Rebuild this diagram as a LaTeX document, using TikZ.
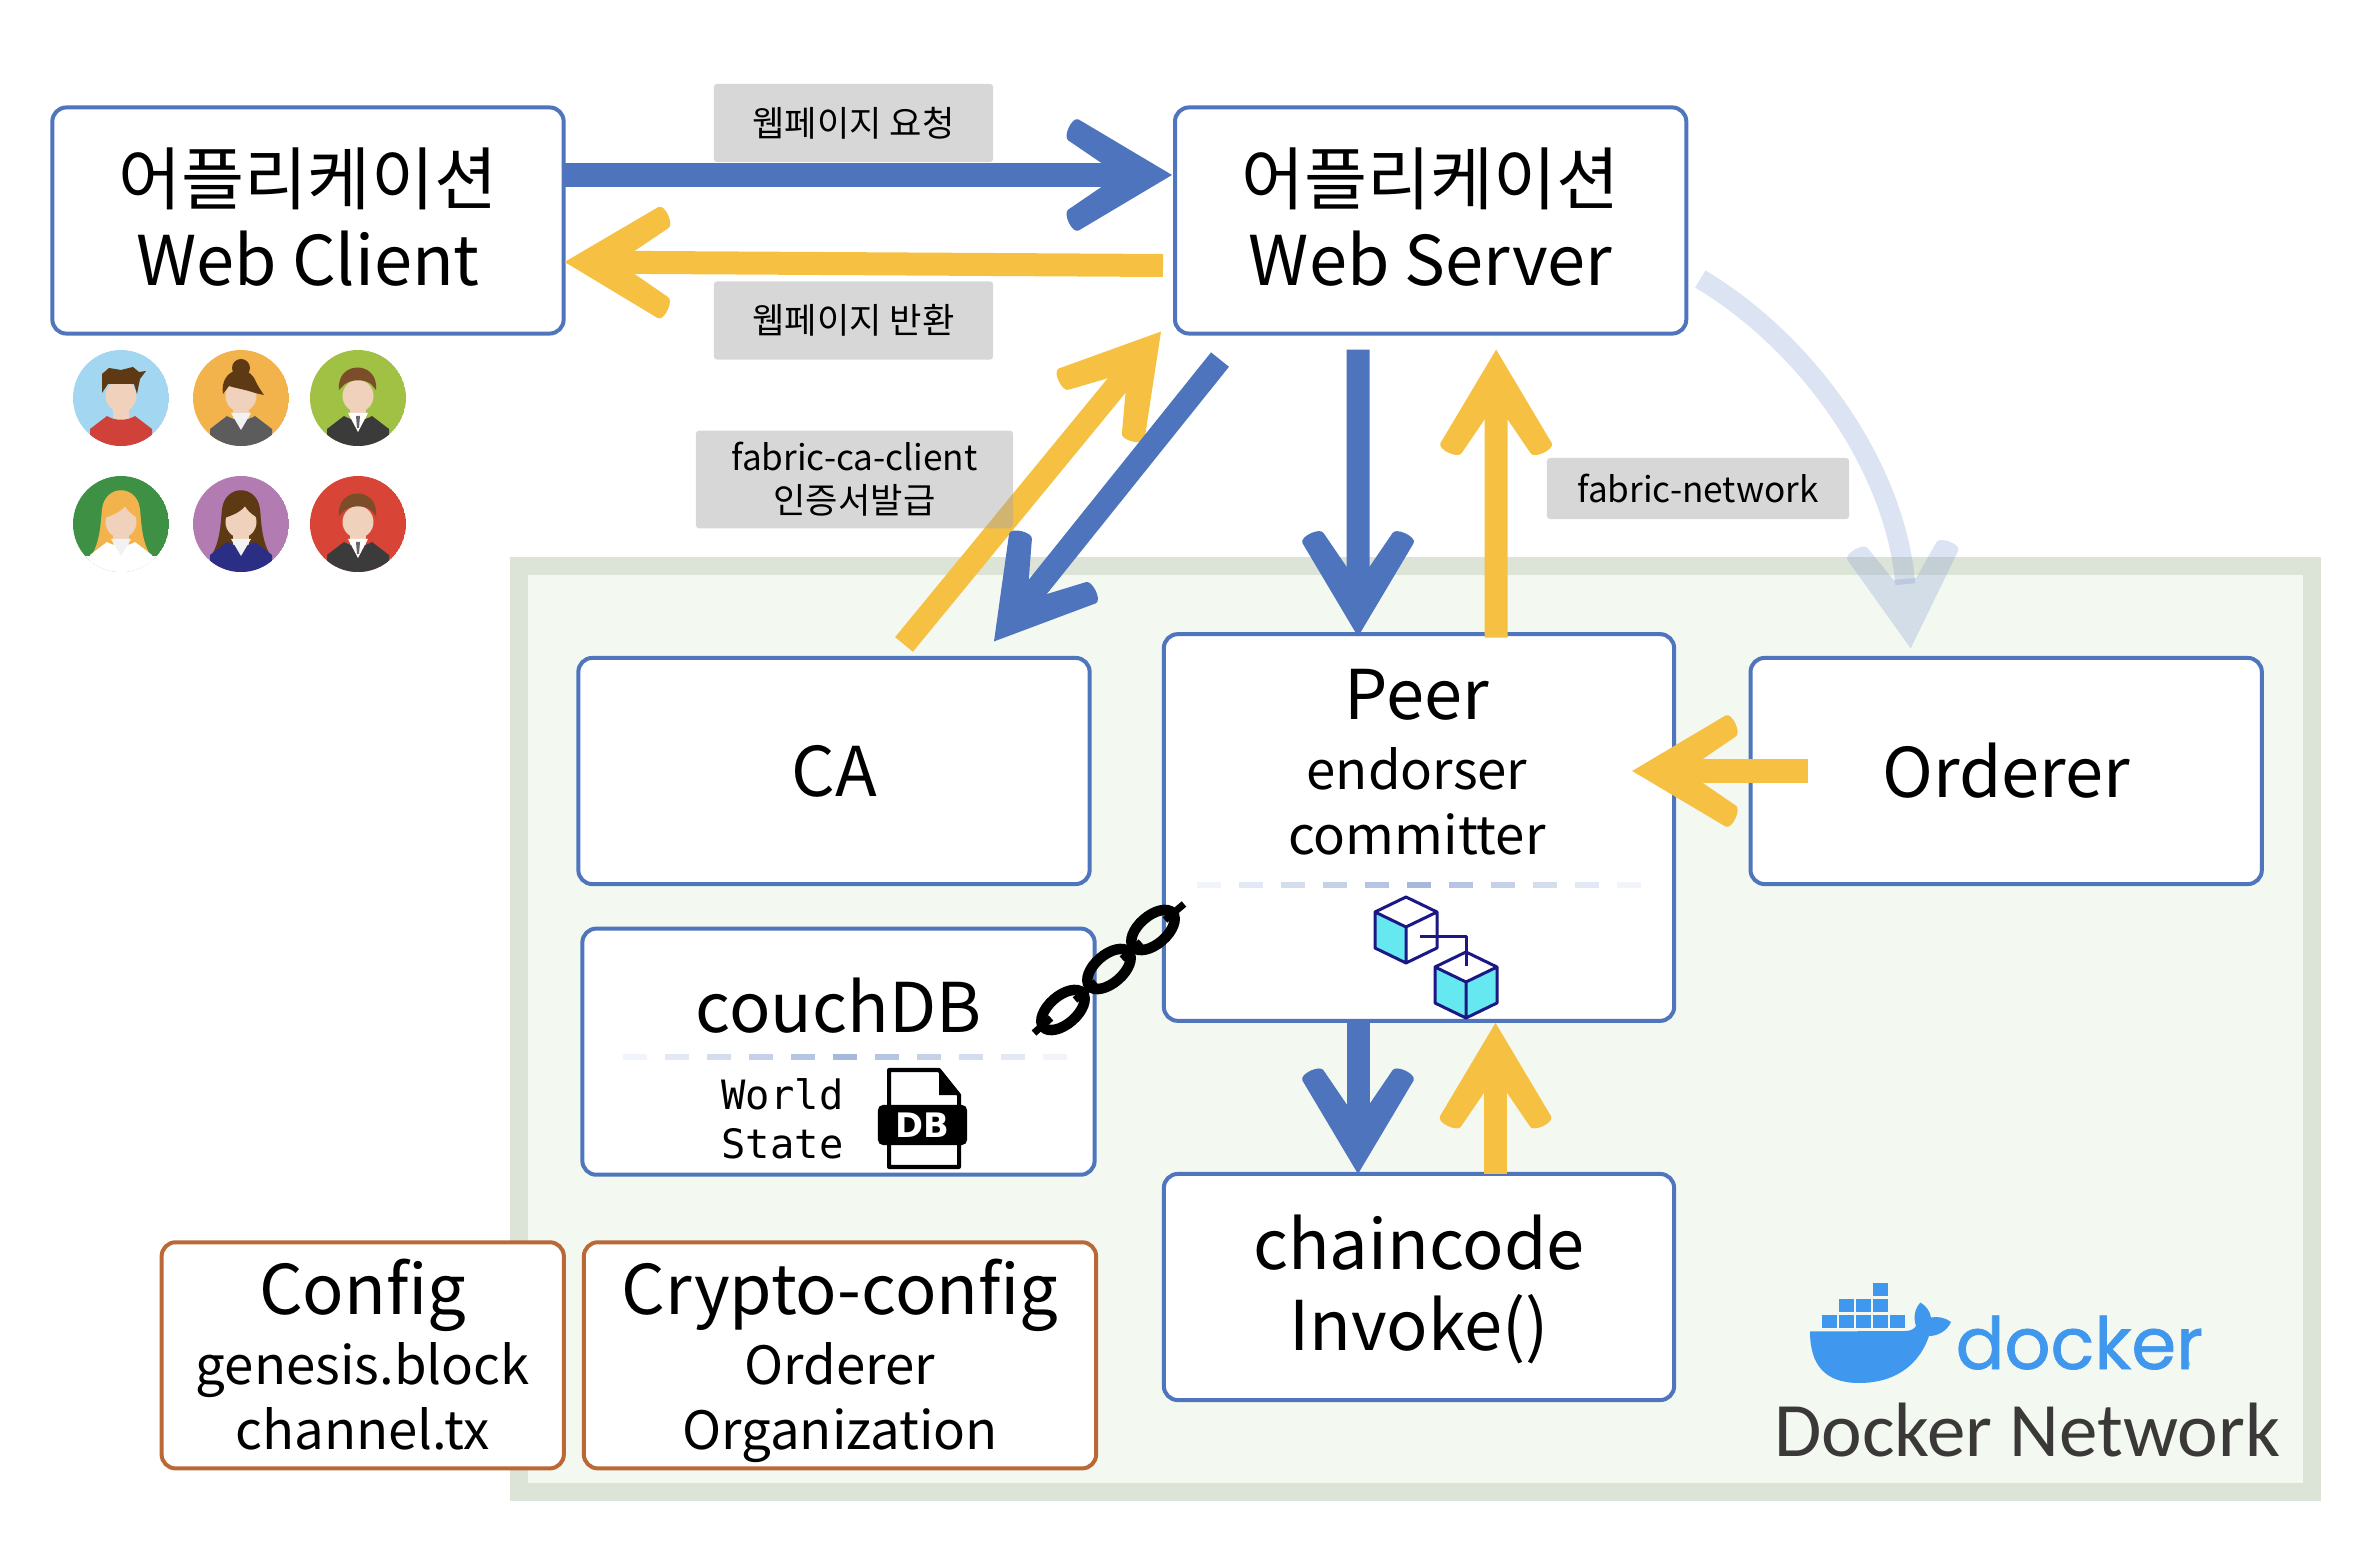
\documentclass[tikz,border=0pt]{standalone}
\usepackage{fontspec}
\setmainfont{Noto Sans CJK KR}
\setmonofont{DejaVu Sans Mono}
\newfontfamily\dockerfont[FakeBold=1]{Poppins}
\newfontfamily\netfont{Carlito}
\newfontfamily\badgefont{DejaVu Sans}
\usetikzlibrary{calc,positioning,arrows.meta}
\definecolor{boxblue}{HTML}{4F75BD}
\definecolor{arrowblue}{HTML}{4E74BE}
\definecolor{arrowyellow}{HTML}{F6C142}
\definecolor{arrowpale}{HTML}{8AA1D3}
\definecolor{boxorange}{HTML}{B96836}
\definecolor{netfill}{HTML}{F3F8F1}
\definecolor{netedge}{HTML}{DCE4D7}
\definecolor{skin}{HTML}{F0D2BC}
\definecolor{cubecyan}{HTML}{66E8F0}
\definecolor{cubenavy}{HTML}{1B1785}
\definecolor{dockerblue}{HTML}{3F97EE}
\definecolor{nettext}{HTML}{3B3838}
\definecolor{suit}{HTML}{3B3B3B}
\definecolor{hairdark}{HTML}{5E3A14}
\definecolor{hairmid}{HTML}{7B4D28}
\definecolor{hairgold}{HTML}{F3B34C}
\definecolor{bgsky}{HTML}{A3D6F1}
\definecolor{bggold}{HTML}{F3B34C}
\definecolor{bglime}{HTML}{A1C144}
\definecolor{bggreen}{HTML}{3E9144}
\definecolor{bgviolet}{HTML}{B27CB3}
\definecolor{bgred}{HTML}{D84436}
\definecolor{shirtred}{HTML}{D0413A}
\definecolor{jacket}{HTML}{5C5C5C}
\definecolor{blouse}{HTML}{2A2E85}
\newcommand{\bigtxt}{\fontsize{19.5}{23}\selectfont}
\newcommand{\subtxt}{\fontsize{15}{18.5}\selectfont}
\newcommand{\tagtxt}{\fontsize{10}{12.2}\selectfont}
\newdimen\barbw \barbw=.243cm
\pgfdeclarearrow{
  name=FatBarb,
  setup code={
    \pgfarrowssettipend{4.55\barbw}
    \pgfarrowssetbackend{0pt}
    \pgfarrowssetlineend{1.9\barbw}
    \pgfarrowssetvisualbackend{1.68\barbw}
    \pgfarrowshullpoint{4.55\barbw}{0pt}
    \pgfarrowsupperhullpoint{0pt}{2.4\barbw}
  },
  drawing code={
    \pgfpathmoveto{\pgfqpoint{4.55\barbw}{0pt}}
    \pgfpathlineto{\pgfqpoint{.7\barbw}{2.29\barbw}}
    \pgfpathcurveto{\pgfqpoint{.43\barbw}{2.41\barbw}}{\pgfqpoint{.03\barbw}{1.53\barbw}}{\pgfqpoint{.3\barbw}{1.41\barbw}}
    \pgfpathlineto{\pgfqpoint{1.68\barbw}{.47\barbw}}
    \pgfpathlineto{\pgfqpoint{1.68\barbw}{-.47\barbw}}
    \pgfpathlineto{\pgfqpoint{.3\barbw}{-1.41\barbw}}
    \pgfpathcurveto{\pgfqpoint{.03\barbw}{-1.53\barbw}}{\pgfqpoint{.43\barbw}{-2.41\barbw}}{\pgfqpoint{.7\barbw}{-2.29\barbw}}
    \pgfpathclose
    \pgfusepathqfill
  }
}
\tikzset{
  x=.01cm, y=-.01cm,
  appbox/.style={
    rectangle,
    rounded corners=.14cm,
    draw=boxblue, line width=.04cm,
    fill=white,
    outer sep=0pt,
    minimum width=5.11cm,
    minimum height=2.26cm,
    align=center,
    font=\bigtxt},
  cfgbox/.style={
    appbox,
    draw=boxorange,
    text depth=.02cm,
    font=\subtxt},
  tagbox/.style={
    rectangle,
    rounded corners=.03cm,
    fill=black!35, fill opacity=.45, text opacity=1,
    outer sep=0pt,
    align=center,
    font=\tagtxt},
  reqarrow/.style={draw=arrowblue, line width=.23cm, -{FatBarb}},
  resarrow/.style={draw=arrowyellow, line width=.23cm, -{FatBarb}},
  ordarrow/.style={draw=arrowpale, opacity=.3, line width=.2cm, -{FatBarb}},
  chainlink/.style={draw=black, line width=.105cm},
  cubeline/.style={draw=cubenavy, line width=.03cm, line join=round},
}
% a row of dashes that fades out at both ends
\newcommand{\fadedash}[2]{
  \foreach \i in {0,...,10}{
    \pgfmathsetmacro\dashop{.5-.085*abs(\i-5)}
    \fill[boxblue,opacity=\dashop] ({#1+42*\i},{#2-3}) rectangle ++(24,6);
  }
}
\newcommand{\blockcube}[4]{
  \begin{scope}[shift={(#1,#2)}]
    \fill[white] (0,0) -- (31,15) -- (0,30) -- (-31,15) -- cycle;
    \fill[#3] (-31,15) -- (0,30) -- (0,66) -- (-31,51) -- cycle;
    \fill[#4] (31,15) -- (0,30) -- (0,66) -- (31,51) -- cycle;
    \draw[cubeline] (0,0) -- (31,15) -- (31,51) -- (0,66) -- (-31,51) -- (-31,15) -- cycle
      (-31,15) -- (0,30) -- (31,15) (0,30) -- (0,66);
  \end{scope}
}
% x, y, background, clothes, hair colour, hair behind the head, collar, hair in front
\newcommand{\avatar}[8]{
  \begin{scope}[shift={(#1,#2)}]
    \clip (0,0) circle (48);
    \fill[#3] (0,0) circle (48);
    \colorlet{haircol}{#5}
    #6
    \fill[skin] (-8,8) rectangle (8,26);
    \fill[#4] (-31,50) -- (-31,31) -- (-14,18) .. controls (-6,23) and (6,23) .. (14,18) -- (31,31) -- (31,50) -- cycle;
    #7
    \fill[skin] (0,-2) ellipse (15.5 and 16);
    #8
  \end{scope}
}
\newcommand{\shorthair}{\fill[haircol] (-19,-8) .. controls (-22,-38) and (21,-38) .. (18,-8) -- (13,-14) .. controls (6,-19) and (-6,-19) .. (-13,-14) -- cycle;}
\newcommand{\spikyhair}{\fill[haircol] (-19,-5) -- (-19,-24) -- (-12,-30) -- (0,-28) -- (12,-31) -- (18,-26) -- (25,-27) -- (19,-19) -- (16,-4) -- (13,-14) -- (-13,-14) -- cycle;}
\newcommand{\bunhair}{\fill[haircol] (0,-30) circle (9);
  \fill[haircol] (-18,-4) .. controls (-22,-30) and (8,-36) .. (15,-16) .. controls (18,-10) and (21,-6) .. (23,-3) -- (14,-5) .. controls (6,-8) and (-6,-10) .. (-12,-12) -- cycle;}
\newcommand{\longhair}{\fill[haircol] (-31,33) .. controls (-20,20) and (-20,-8) .. (-19,-15) .. controls (-16,-40) and (16,-40) .. (19,-15) .. controls (20,-8) and (20,20) .. (31,33) -- cycle;}
\newcommand{\fringe}{\fill[haircol] (-17,-6) .. controls (-18,-30) and (18,-30) .. (17,-6) .. controls (10,-10) and (6,-14) .. (4,-18) .. controls (0,-12) and (-10,-8) .. (-17,-6) -- cycle;}
\newcommand{\suitcollar}{\fill[white] (-10,15) -- (0,34) -- (10,15) -- cycle;
  \fill[black!60] (-2,18) -- (2,18) -- (1,30) -- (-1,30) -- cycle;}
\newcommand{\openshirt}{\fill[black!5] (-10,15) -- (0,32) -- (10,15) -- cycle;}
\begin{document}
\begin{tikzpicture}
  \useasboundingbox (0,0) rectangle (2356,1558);
  % the network behind everything
  \node[rectangle, draw=netedge, line width=.18cm, fill=netfill, minimum width=17.92cm, minimum height=9.26cm] (network) at (1415.5,1029) {};
  % application boxes
  \node[appbox, text depth=.08cm] (wclient) at (308,220.5) {어플리케이션\\Web Client};
  \node[appbox, text depth=.08cm, right=6.11cm of wclient] (wserver) {어플리케이션\\Web Server};
  \node[appbox] (ca) at (834,771) {CA};
  \node[appbox, right=6.605cm of ca] (orderer) {Orderer};
  \node[appbox, minimum width=5.1cm, minimum height=3.865cm] (peer) at (1419,827.5) {};
  \node[appbox, minimum width=5.1cm, text depth=.08cm, below=1.53cm of peer] (chaincode) {chaincode\\Invoke()};
  \node[appbox, minimum width=5.12cm, minimum height=2.46cm, below=.445cm of ca, xshift=.045cm] (couch) {};
  \node[cfgbox, minimum width=5.12cm, below=.675cm of couch, xshift=.015cm] (crypto) {{\bigtxt Crypto-config}\\[1.5pt]Orderer\\Organization};
  \node[cfgbox, minimum width=4.02cm, left=.2cm of crypto] (config) {{\bigtxt Config}\\[1.5pt]genesis.block\\channel.tx};
  % text inside peer and couchDB
  \node[anchor=base, font=\bigtxt] (peername) at ($(peer.north)+(-2,85)$) {Peer};
  \node[anchor=base, font=\subtxt] (peerend) at ($(peer.north)+(-2,155)$) {endorser};
  \node[anchor=base, font=\subtxt] (peercom) at ($(peer.north)+(-2,220.5)$) {committer};
  \node[anchor=base, font=\bigtxt] (couchname) at ($(couch.north)+(0,104)$) {couchDB};
  \node[align=center, font=\ttfamily\fontsize{11.5}{14}\selectfont] (worldstate) at ($(couch.south)+(-56,-56)$) {World\\State};
  % arrows on top of the boxes
  \draw[reqarrow] ($(wclient.east)+(0,-45.5)$) -- ($(wserver.west)+(-3,-45.5)$);
  \draw[resarrow] ($(wserver.west)+(-12,45)$) -- ($(wclient.east)+(1,41.5)$);
  \draw[resarrow] ($(ca.north)+(70,-13.5)$) -- ($(wserver.south west)+(-14,-2)$);
  \node[tagbox, minimum width=3.17cm, minimum height=.95cm] (certtag) at (854.5,479.5) {fabric-ca-client\\인증서발급};
  \draw[reqarrow] ($(wserver.south west)+(45,26)$) -- ($(ca.north)+(160,-16.5)$);
  \draw[reqarrow] ($(wserver.south)+(-72.5,16)$) -- ($(peer.north)+(-61,2.5)$);
  \draw[resarrow] ($(peer.north)+(77,3.5)$) -- ($(wserver.south)+(65.5,16)$);
  \draw[resarrow] ($(orderer.west)+(57,0)$) -- ($(peer.east)+(-42,-56.5)$);
  \draw[reqarrow] ($(peer.south)+(-61,0)$) -- ($(chaincode.north)+(-61,0)$);
  \draw[resarrow] ($(chaincode.north)+(76.5,0)$) -- ($(peer.south)+(76.5,2)$);
  \draw[ordarrow] ($(wserver.east)+(14,58.5)$) .. controls +(110,66) and +(-15,-179) .. ($(orderer.north)+(-95.5,-9.5)$);
  % grey tags
  \node[tagbox, minimum width=2.79cm, minimum height=.78cm] (reqtag) at (853.5,123) {웹페이지 요청};
  \node[tagbox, minimum width=2.79cm, minimum height=.78cm] (rettag) at (853.5,320.5) {웹페이지 반환};
  \node[tagbox, minimum width=3.02cm, minimum height=.61cm] (nettag) at (1698,488.5) {fabric-network};
  % dashes
  \fadedash{623}{1057}
  \fadedash{1197}{885}
  %% No. 1 the chain
  \foreach \cx/\cy in {1063/1010,1109/969,1153/930}
    \draw[chainlink, rotate around={41:(\cx,\cy)}] (\cx,\cy) ellipse (26 and 14);
  \foreach \ax/\ay/\bx/\by in {1034/1033/1051/1018,1075/1000/1096/982,1122/959/1141/942,1165/920/1184/904}
    \draw[black, line width=.07cm] (\ax,\ay) -- (\bx,\by);
  %% No. 2 the blocks
  \blockcube{1406}{897}{cubecyan}{white}
  \blockcube{1466}{952}{cubecyan}{cubecyan}
  \draw[cubeline] (1420,937) -- (1466,937) -- (1466,966);
  %% No. 3 the db file
  \draw[black, line width=.04cm, fill=white, line join=round] (889,1070) -- (939,1070) -- (959,1095) -- (959,1167) -- (889,1167) -- cycle;
  \fill[black] (939,1068) -- (961,1095) -- (939,1095) -- cycle;
  \node[rectangle, rounded corners=.05cm, fill=black, text=white, minimum width=.89cm, minimum height=.4cm, inner sep=0pt, font=\badgefont\bfseries\fontsize{9.6}{10}\selectfont] (dbbadge) at (922.5,1125) {DB};
  %% No. 4 the people
  \avatar{121}{398}{bgsky}{shirtred}{hairdark}{}{}{\spikyhair}
  \avatar{241}{398}{bggold}{jacket}{hairdark}{}{\openshirt}{\bunhair}
  \avatar{358}{398}{bglime}{suit}{hairmid}{}{\suitcollar}{\shorthair}
  \avatar{121}{524}{bggreen}{white}{hairgold}{\longhair}{\fill[white] (-48,32) rectangle (48,50); \openshirt}{\fringe}
  \avatar{241}{524}{bgviolet}{blouse}{hairdark}{\longhair}{\openshirt}{\fringe}
  \avatar{358}{524}{bgred}{suit}{hairmid}{}{\suitcollar}{\shorthair}
  %% No. 5 the docker logo
  \foreach \bx/\by in {1822/1315,1839/1315,1856/1315,1873/1315,1890/1315,1839/1299,1856/1299,1873/1299,1873/1283}
    \fill[dockerblue] (\bx,\by) rectangle ++(15,13);
  \fill[dockerblue] (1810,1331.5) -- (1905,1331) .. controls (1911,1331) and (1914,1329) .. (1916,1326)
    .. controls (1913,1317) and (1915,1308) .. (1920.5,1302.5) .. controls (1926,1306) and (1930,1311) .. (1931,1317.5)
    .. controls (1938,1316) and (1946,1318) .. (1951,1322) .. controls (1947,1331) and (1938,1336) .. (1929,1336)
    .. controls (1921,1360) and (1900,1383) .. (1859,1383) .. controls (1825,1383) and (1810,1365) .. (1810,1331.5) -- cycle;
  \node[anchor=base west, inner sep=0pt, text=dockerblue, font=\dockerfont\fontsize{20.5}{24}\selectfont] (dockerword) at (1955,1369) {docker};
  \node[anchor=base, inner sep=0pt, text=dockerblue, font=\fontsize{4}{5}\selectfont] (dockerreg) at (2187,1372) {®};
  \node[anchor=base, text=nettext, font=\netfont\fontsize{21.9}{24}\selectfont] (dockernet) at (2027,1456) {Docker Network};
\end{tikzpicture}
\end{document}
